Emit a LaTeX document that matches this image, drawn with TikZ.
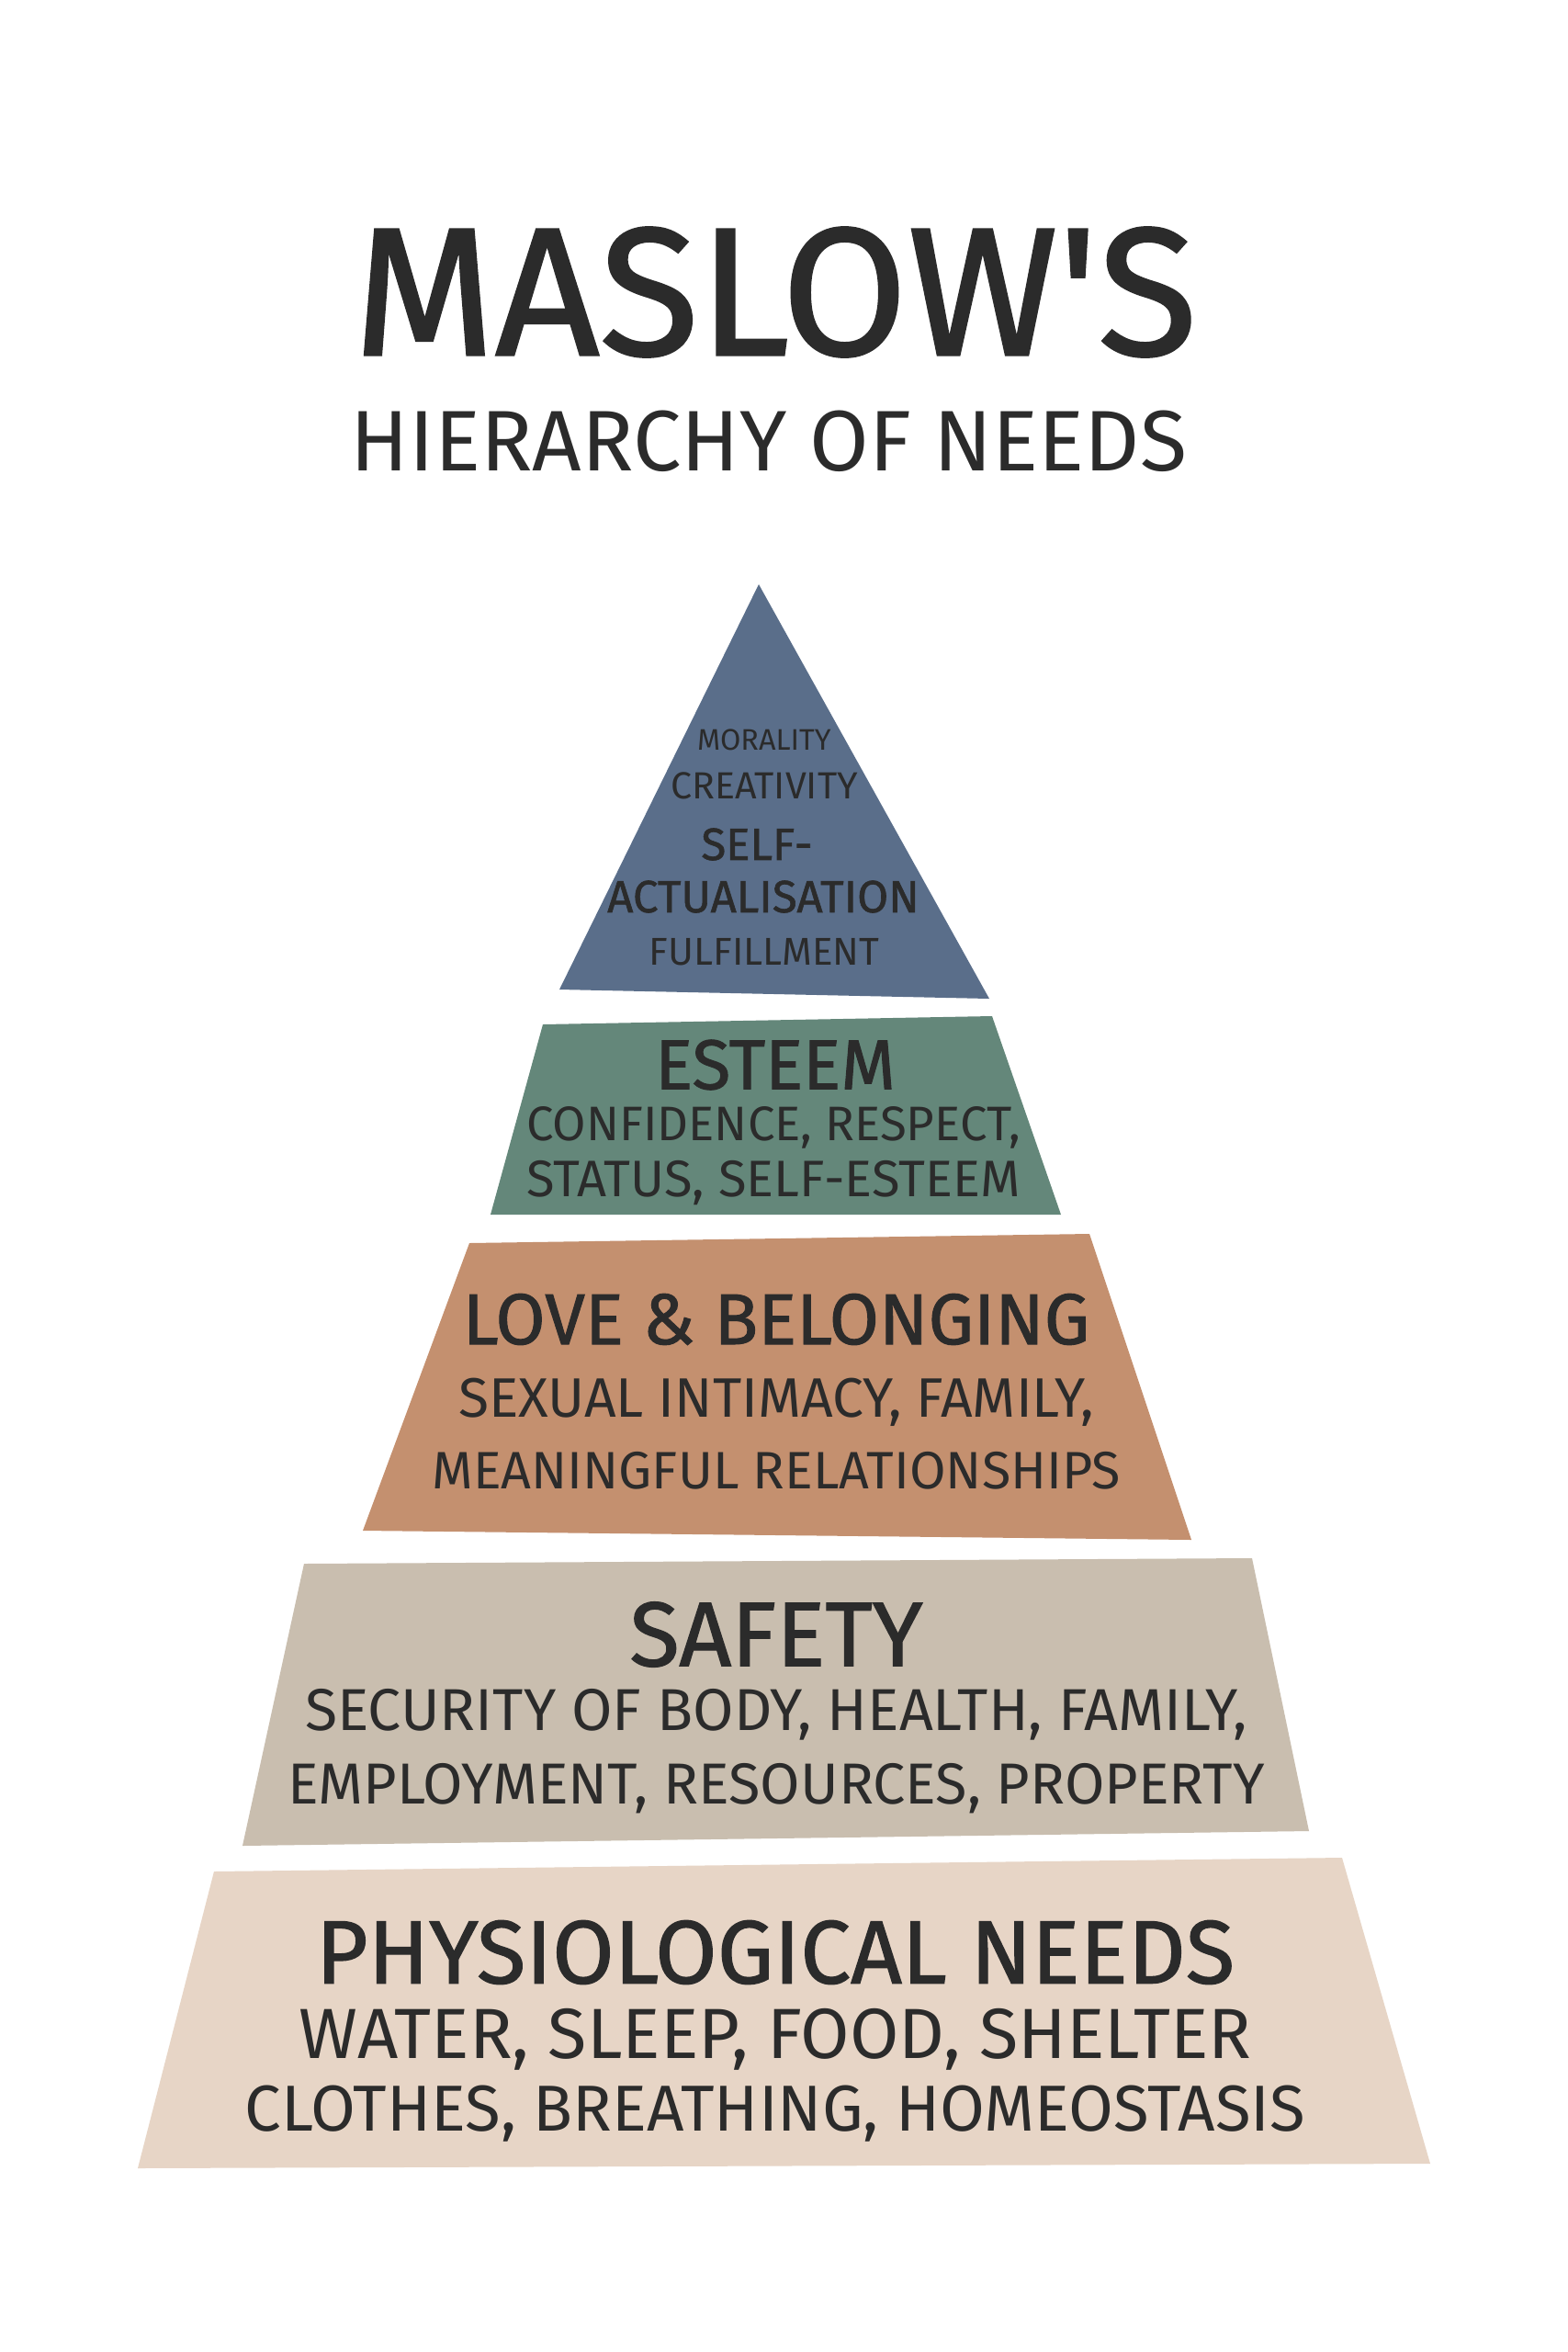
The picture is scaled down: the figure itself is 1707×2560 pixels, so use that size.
\documentclass[tikz,border=0pt]{standalone}
\usepackage{fontspec}
\setmainfont{Fira Sans}
\newfontfamily\thinfont{Fira Sans}
\newfontfamily\headfont[FakeBold=1.2]{Fira Sans}
\usepackage{tikz}

\definecolor{ink}{HTML}{2B2B2B}
\definecolor{slate}{HTML}{5A6E8A}
\definecolor{sage}{HTML}{64877A}
\definecolor{clay}{HTML}{C4906F}
\definecolor{stone}{HTML}{C9BEAF}
\definecolor{sand}{HTML}{E7D5C6}

\newcommand{\fsz}[1]{\fontsize{#1}{#1}\selectfont}

\tikzset{
  heading/.style={text=ink, inner sep=0pt},
  detail/.style={text=ink, inner sep=0pt}
}

\begin{document}
\begin{tikzpicture}[x=0.01cm, y=-0.01cm]
  \useasboundingbox[fill=white] (0,0) rectangle (1707,2560);

  % tiers
  \fill[slate] (826,636) -- (1077,1087) -- (609,1077) -- cycle;
  \fill[sage]  (591,1115) -- (1080,1106) -- (1155,1322) -- (534,1322) -- cycle;
  \fill[clay]  (511,1353) -- (1186,1343) -- (1297,1676) -- (395,1666) -- cycle;
  \fill[stone] (331,1702) -- (1363,1696) -- (1425,1993) -- (264,2009) -- cycle;
  \fill[sand]  (233,2037) -- (1461,2022) -- (1557,2355) -- (150,2360) -- cycle;

  % title
  \node[heading, font=\headfont\fsz{56.4}] (Title) at (844,318) {MASLOW'S};
  \node[detail, font=\thinfont\fsz{26.6}] (Subtitle) at (837,480) {HIERARCHY OF NEEDS};

  % self-actualisation
  \node[detail, font=\thinfont\fsz{9.2}] (Morality) at (832,805) {MORALITY};
  \node[detail, font=\thinfont\fsz{11.7}] (Creativity) at (832,855) {CREATIVITY};
  \node[heading, font=\headfont\fsz{14}] (Self) at (824,919) {SELF-};
  \node[heading, font=\headfont\fsz{14}] (Actualisation) at (831,976) {ACTUALISATION};
  \node[detail, font=\thinfont\fsz{12}] (Fulfillment) at (832,1036) {FULFILLMENT};

  % esteem
  \node[heading, font=\headfont\fsz{21.8}] (Esteem) at (844,1159) {ESTEEM};
  \node[detail, font=\thinfont\fsz{15}] (EsteemA) at (842,1227) {CONFIDENCE, RESPECT,};
  \node[detail, font=\thinfont\fsz{15.9}] (EsteemB) at (842,1288) {STATUS, SELF-ESTEEM};

  % love and belonging
  \node[heading, font=\headfont\fsz{22.3}] (Love) at (845,1436) {LOVE \& BELONGING};
  \node[detail, font=\thinfont\fsz{17.2}] (LoveA) at (845,1526) {SEXUAL INTIMACY, FAMILY,};
  \node[detail, font=\thinfont\fsz{16.3}] (LoveB) at (845,1601) {MEANINGFUL RELATIONSHIPS};

  % safety
  \node[heading, font=\headfont\fsz{28.3}] (Safety) at (845,1779) {SAFETY};
  \node[detail, font=\thinfont\fsz{18.3}] (SafetyA) at (845,1866) {SECURITY OF BODY, HEALTH, FAMILY,};
  \node[detail, font=\thinfont\fsz{17.9}] (SafetyB) at (845,1947) {EMPLOYMENT, RESOURCES, PROPERTY};

  % physiological
  \node[heading, font=\headfont\fsz{27.8}] (Physio) at (844,2125) {PHYSIOLOGICAL NEEDS};
  \node[detail, font=\thinfont\fsz{22}] (PhysioA) at (844,2220) {WATER, SLEEP, FOOD, SHELTER};
  \node[detail, font=\thinfont\fsz{20.1}] (PhysioB) at (844,2301) {CLOTHES, BREATHING, HOMEOSTASIS};
\end{tikzpicture}
\end{document}
